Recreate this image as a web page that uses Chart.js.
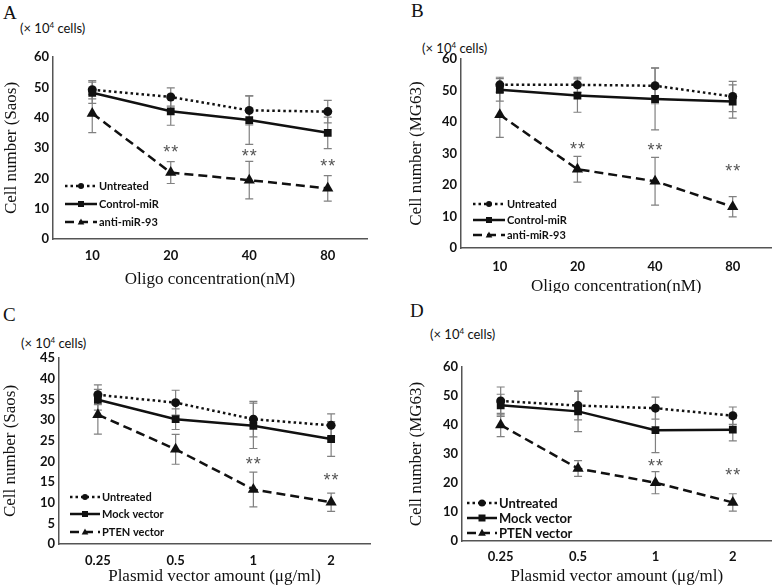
<!DOCTYPE html>
<html>
<head>
<meta charset="utf-8">
<script src="https://cdn.jsdelivr.net/npm/chart.js"></script>
<style>
  body { margin: 0; background: #fff; width: 778px; height: 587px; position: relative; overflow: hidden; }
  canvas { position: absolute; }
  .tag { position: absolute; font-family: "Liberation Serif", "Times New Roman", serif; font-size: 19px; line-height: 1; color: #111; }
  .unit { position: absolute; font-family: Lato, "Liberation Sans", sans-serif; font-size: 13px; line-height: 1; color: #111; white-space: nowrap; }
  .unit sup { font-size: 8px; vertical-align: 5px; }
</style>
</head>
<body>
<div class="tag" style="left:3px;top:3px">A</div>
<div class="tag" style="left:411px;top:1px">B</div>
<div class="tag" style="left:3px;top:305px">C</div>
<div class="tag" style="left:410px;top:301px">D</div>
<div class="unit" style="left:20px;top:21px">(× 10<sup>4</sup> cells)</div>
<div class="unit" style="left:422px;top:41px">(× 10<sup>4</sup> cells)</div>
<div class="unit" style="left:21px;top:336px">(× 10<sup>4</sup> cells)</div>
<div class="unit" style="left:430px;top:327px">(× 10<sup>4</sup> cells)</div>

<canvas id="chartA" width="389" height="293" style="left:0;top:0"></canvas>
<canvas id="chartB" width="389" height="293" style="left:389px;top:0"></canvas>
<canvas id="chartC" width="389" height="294" style="left:0;top:293px"></canvas>
<canvas id="chartD" width="389" height="294" style="left:389px;top:293px"></canvas>

<script>
// x categories
const oligoLabels = ['10', '20', '40', '80'];
const plasmidLabels = ['0.25', '0.5', '1', '2'];

// A: Saos, oligo
const aUntreated = [49.2, 46.8, 42.4, 42.0];
const aUntreatedErr = [3.0, 3.0, 4.8, 3.7];
const aControl = [48.2, 42.1, 39.2, 35.0];
const aControlErr = [3.5, 4.6, 8.0, 5.2];
const aAnti = [41.4, 21.9, 19.4, 16.7];
const aAntiErr = [6.3, 3.6, 6.2, 4.2];
const aStars = [null, 29.5, 28.2, 24.9];

// B: MG63, oligo
const bUntreated = [51.8, 51.8, 51.5, 48.1];
const bUntreatedErr = [2.4, 2.4, 5.7, 4.8];
const bControl = [50.2, 48.4, 47.3, 46.5];
const bControlErr = [3.6, 5.3, 9.8, 5.3];
const bAnti = [42.3, 25.0, 21.2, 13.1];
const bAntiErr = [7.2, 4.1, 7.6, 3.2];
const bStars = [null, 32.5, 32.2, 25.5];

// C: Saos, plasmid
const cUntreated = [36.1, 34.2, 30.2, 28.7];
const cUntreatedErr = [2.4, 3.0, 4.3, 2.8];
const cMock = [34.9, 30.2, 28.6, 25.4];
const cMockErr = [2.5, 2.5, 5.5, 4.2];
const cPten = [31.3, 22.9, 13.2, 10.1];
const cPtenErr = [4.7, 3.6, 4.2, 2.2];
const cStars = [null, null, 20.0, 16.3];

// D: MG63, plasmid
const dUntreated = [48.3, 46.7, 45.8, 43.2];
const dUntreatedErr = [4.8, 4.9, 3.8, 3.0];
const dMock = [46.8, 44.7, 38.2, 38.4];
const dMockErr = [3.8, 7.0, 7.7, 3.9];
const dPten = [40.0, 25.0, 20.1, 13.3];
const dPtenErr = [4.0, 2.7, 3.8, 3.0];
const dStars = [null, null, 27.0, 23.9];

const ink = '#111';
const tickFont = { family: 'Lato, "Liberation Sans", sans-serif', size: 13, weight: 'bold' };
const titleFont = { family: '"Liberation Serif", "Times New Roman", serif', size: 17 };

const lineStyles = {
  dotted: { borderDash: [2.5, 3], pointStyle: 'circle', pointRadius: 4.5 },
  solid: { borderDash: [], pointStyle: 'rect', pointRadius: 5.5 },
  dashed: { borderDash: [9, 5], pointStyle: 'triangle', pointRadius: 6.5 }
};

function series(label, data, errors, kind) {
  const s = lineStyles[kind];
  return {
    label, data, errors, kind,
    borderColor: ink, backgroundColor: ink,
    borderWidth: 2.5, borderDash: s.borderDash,
    pointStyle: s.pointStyle, pointRadius: s.pointRadius,
    pointBackgroundColor: ink, pointBorderColor: ink, pointBorderWidth: 0,
    tension: 0, fill: false
  };
}

function marker(ctx, kind, x, y, r) {
  ctx.beginPath();
  if (kind === 'dotted') {
    ctx.arc(x, y, r, 0, Math.PI * 2);
  } else if (kind === 'solid') {
    ctx.rect(x - r, y - r, 2 * r, 2 * r);
  } else {
    ctx.moveTo(x, y - r * 1.2);
    ctx.lineTo(x + r * 1.1, y + r * 0.8);
    ctx.lineTo(x - r * 1.1, y + r * 0.8);
    ctx.closePath();
  }
  ctx.fill();
}

const extras = {
  id: 'extras',
  beforeDatasetsDraw(chart) {
    const { ctx, scales: { y } } = chart;
    ctx.save();
    ctx.strokeStyle = '#808080';
    ctx.lineWidth = 1.2;
    chart.data.datasets.forEach((ds, i) => {
      const meta = chart.getDatasetMeta(i);
      ds.errors.forEach((e, j) => {
        const px = meta.data[j].x;
        const top = y.getPixelForValue(ds.data[j] + e);
        const bot = y.getPixelForValue(ds.data[j] - e);
        ctx.beginPath();
        ctx.moveTo(px, top); ctx.lineTo(px, bot);
        ctx.moveTo(px - 4, top); ctx.lineTo(px + 4, top);
        ctx.moveTo(px - 4, bot); ctx.lineTo(px + 4, bot);
        ctx.stroke();
      });
    });
    ctx.restore();
  },
  afterDatasetsDraw(chart, args, opts) {
    const { ctx, scales: { x, y } } = chart;
    ctx.save();
    // significance marks
    ctx.fillStyle = '#555';
    ctx.font = '18px "Liberation Sans", sans-serif';
    ctx.textAlign = 'center';
    ctx.textBaseline = 'middle';
    opts.stars.forEach((v, j) => {
      if (v === null) return;
      const cx = x.getPixelForValue(j), cy = y.getPixelForValue(v) + 4;
      ctx.fillText('*', cx - 4, cy);
      ctx.fillText('*', cx + 4, cy);
    });
    // legend
    const lg = opts.legend;
    ctx.font = 'bold ' + lg.size + 'px Lato, "Liberation Sans", sans-serif';
    ctx.textAlign = 'left';
    chart.data.datasets.forEach((ds, i) => {
      const ry = lg.rows[i];
      ctx.strokeStyle = ink;
      ctx.fillStyle = ink;
      ctx.lineWidth = 2.5;
      ctx.setLineDash(ds.borderDash);
      ctx.beginPath();
      ctx.moveTo(lg.x0, ry); ctx.lineTo(lg.x1, ry);
      ctx.stroke();
      ctx.setLineDash([]);
      marker(ctx, ds.kind, (lg.x0 + lg.x1) / 2, ry, lg.marker);
      ctx.fillStyle = ink;
      ctx.fillText(ds.label, lg.x1 + 2, ry + 0.5);
    });
    ctx.restore();
  }
};

function makePanel(id, spec) {
  const canvas = document.getElementById(id);
  const W = canvas.width, H = canvas.height;
  const box = spec.box;
  const lh = titleFont.size * 1.2;
  new Chart(canvas, {
    type: 'line',
    data: { labels: spec.labels, datasets: spec.datasets },
    plugins: [extras],
    options: {
      responsive: false,
      animation: false,
      layout: { padding: { left: 0, top: box.top, right: W - box.right, bottom: 0 } },
      plugins: {
        legend: { display: false },
        tooltip: { enabled: false },
        extras: { stars: spec.stars, legend: spec.legend }
      },
      scales: {
        x: {
          offset: true,
          grid: { display: false, drawTicks: false },
          border: { display: true, color: '#555', width: 1.5 },
          ticks: { font: tickFont, color: ink, padding: spec.xTickPad },
          title: { display: true, text: spec.xTitle, font: titleFont, color: ink,
                   padding: { top: 0, bottom: spec.xTitleOffset - lh / 2 } },
          afterFit(s) { s.height = H - box.bottom; }
        },
        y: {
          min: 0, max: spec.yMax,
          grid: { display: false, drawTicks: false },
          border: { display: true, color: '#555', width: 1.5 },
          ticks: { stepSize: spec.yStep, font: tickFont, color: ink, padding: 4 },
          title: { display: true, text: spec.yTitle, font: titleFont, color: ink,
                   padding: { top: spec.yTitleOffset - lh / 2, bottom: 0 } },
          afterFit(s) { s.width = box.left; }
        }
      }
    }
  });
}

makePanel('chartA', {
  labels: oligoLabels,
  datasets: [
    series('Untreated', aUntreated, aUntreatedErr, 'dotted'),
    series('Control-miR', aControl, aControlErr, 'solid'),
    series('anti-miR-93', aAnti, aAntiErr, 'dashed')
  ],
  stars: aStars,
  yMax: 60, yStep: 10,
  xTitle: 'Oligo concentration(nM)', yTitle: 'Cell number (Saos)',
  box: { left: 53, right: 367, top: 57, bottom: 239 },
  xTickPad: 9, xTitleOffset: 13, yTitleOffset: 12,
  legend: { x0: 65, x1: 97, rows: [186, 204, 222], size: 11, marker: 3 }
});

makePanel('chartB', {
  labels: oligoLabels,
  datasets: [
    series('Untreated', bUntreated, bUntreatedErr, 'dotted'),
    series('Control-miR', bControl, bControlErr, 'solid'),
    series('anti-miR-93', bAnti, bAntiErr, 'dashed')
  ],
  stars: bStars,
  yMax: 60, yStep: 10,
  xTitle: 'Oligo concentration(nM)', yTitle: 'Cell number (MG63)',
  box: { left: 72, right: 386, top: 59, bottom: 248 },
  xTickPad: 11, xTitleOffset: 6, yTitleOffset: 28,
  legend: { x0: 84, x1: 116, rows: [204, 220, 235], size: 11, marker: 3 }
});

makePanel('chartC', {
  labels: plasmidLabels,
  datasets: [
    series('Untreated', cUntreated, cUntreatedErr, 'dotted'),
    series('Mock vector', cMock, cMockErr, 'solid'),
    series('PTEN vector', cPten, cPtenErr, 'dashed')
  ],
  stars: cStars,
  yMax: 45, yStep: 5,
  xTitle: 'Plasmid vector amount (μg/ml)', yTitle: 'Cell number (Saos)',
  box: { left: 59, right: 370, top: 65, bottom: 251 },
  xTickPad: 9, xTitleOffset: 10, yTitleOffset: 11,
  legend: { x0: 70, x1: 100, rows: [204, 221, 239], size: 11, marker: 3 }
});

makePanel('chartD', {
  labels: plasmidLabels,
  datasets: [
    series('Untreated', dUntreated, dUntreatedErr, 'dotted'),
    series('Mock vector', dMock, dMockErr, 'solid'),
    series('PTEN vector', dPten, dPtenErr, 'dashed')
  ],
  stars: dStars,
  yMax: 60, yStep: 10,
  xTitle: 'Plasmid vector amount (μg/ml)', yTitle: 'Cell number (MG63)',
  box: { left: 73, right: 386, top: 74, bottom: 248 },
  xTickPad: 8, xTitleOffset: 10, yTitleOffset: 28,
  legend: { x0: 78, x1: 108, rows: [210, 225, 240], size: 13, marker: 3.5 }
});
</script>
</body>
</html>
